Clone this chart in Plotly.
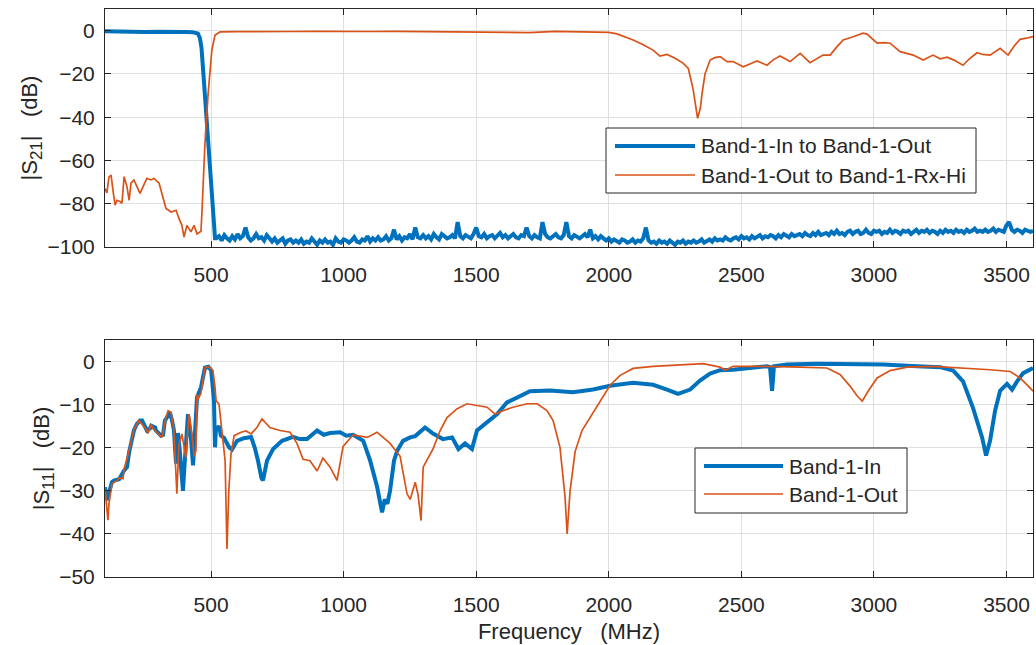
import numpy as np
import plotly.graph_objects as go

# ---------------------------------------------------------------- styling
BLUE = "#0072BD"
ORANGE = "#D95319"
INK = "#262626"
GRID = "#dfdfdf"
FONT = "Liberation Sans, Arial, Helvetica, sans-serif"
TICK_SIZE = 21
LABEL_SIZE = 22
LEGEND_SIZE = 21

W, H = 1036, 645
ML, MR, MT, MB = 105, 3, 9, 68

FREQ_RANGE = [100, 3600]
FREQ_TICKS = [500, 1000, 1500, 2000, 2500, 3000, 3500]
S21_TICKS = [0, -20, -40, -60, -80, -100]
S11_TICKS = [0, -10, -20, -30, -40, -50]

# ---------------------------------------------------------------- |S21| data
# Band-1-In to Band-1-Out: passband and roll-off (MHz, dB)
s21_in_f_edge = [100, 150, 200, 250, 300, 350, 400, 430, 440, 450, 458, 464,
                 470, 477, 485, 496, 503, 508, 515]
s21_in_db_edge = [-0.3, -0.5, -0.4, -0.6, -0.5, -0.4, -0.6, -0.7, -0.8, -1.3,
                  -3.4, -8.0, -18.0, -31.0, -44.5, -67.6, -80.0, -90.0, -96.0]

# Band-1-In to Band-1-Out: stopband sweep, 10 MHz steps from 520 MHz
s21_in_stop_start = 520
s21_in_stop_step = 10
s21_in_db_stop = [
    -96, -95, -97, -94.5, -96, -97, -95, -96.5, -94, -96,
    -95, -91, -95.5, -97, -96, -94, -96, -95.5, -97, -94.5,
    -96, -97.5, -96, -98, -97, -96, -98.5, -97, -96.5, -98,
    -97, -98, -96.5, -98.5, -97.5, -98, -96, -97.5, -99, -97,
    -98, -96.5, -98, -97.5, -99, -96, -97.5, -98, -96.5, -97,
    -98, -97, -95.5, -97.5, -98, -96.5, -97, -95, -97.5, -96,
    -97, -95.5, -97, -96.5, -95, -97, -96, -92, -96.5, -95,
    -97, -95.5, -96, -94, -96.5, -91, -95.5, -96, -94.5, -96,
    -95, -96.5, -94, -95.5, -96.5, -94, -95, -96, -95.5, -94.5,
    -96, -88.5, -95, -96, -94.5, -95.5, -96, -94, -91, -95,
    -95.5, -94, -96, -95, -94.5, -96, -95, -93.5, -95.5, -94.5,
    -96, -95, -94, -95.5, -96, -94.5, -95, -91, -95, -96,
    -94.5, -95.5, -96, -88.5, -94, -95.5, -96, -95, -94, -95.5,
    -96, -94.5, -88.5, -95, -96, -94.5, -95.5, -96, -95, -94,
    -95.5, -92, -96, -95, -96.5, -95, -96, -97, -96, -97.5,
    -96.5, -97.5, -98, -96.5, -97, -98, -97.5, -96.5, -98, -97,
    -97.5, -96, -91, -97, -98, -97.5, -98.5, -97, -98, -97.5,
    -98.5, -97, -98, -99, -97.5, -98, -97, -98.5, -97.5, -98,
    -97, -98, -97.5, -96.5, -98, -97, -96.5, -97.5, -96, -97,
    -96.5, -97, -95.5, -96.5, -97, -96, -95.5, -96.5, -95, -96,
    -95.5, -96.5, -95, -96, -95.5, -94.5, -96, -95, -95.5, -94.5,
    -95, -96, -94.5, -95.5, -94, -95, -95.5, -94, -95, -94.5,
    -94, -95, -93.5, -94.5, -95, -93.5, -94.5, -93, -94.5, -94,
    -93.5, -94.5, -93, -94, -92.5, -94, -93.5, -94.5, -93, -92.5,
    -94, -93, -92.5, -94, -93.5, -92, -93.5, -94, -92.5, -93,
    -92.5, -94, -93, -93.5, -92, -93.5, -92.5, -93, -94, -92.5,
    -93, -92.5, -94, -93, -92, -93.5, -92.5, -93, -92, -93.5,
    -92.5, -93, -94, -92.5, -93.5, -92, -93, -92.5, -93.5, -92,
    -93, -92.5, -93.5, -92, -93, -92.5, -91.5, -93, -92.5, -93,
    -92, -93, -92.5, -91.5, -93, -92, -92.5, -93, -90, -88.5,
    -92, -93, -92, -92.5, -93.5, -92, -92.5, -93, -92.5,
]

# Band-1-Out to Band-1-Rx-Hi (MHz, dB)
s21_out_f = [100, 107, 115, 123, 130, 138, 145, 157, 164, 172, 183, 191, 198,
             209, 221, 232, 243, 258, 274, 285, 304, 315, 330, 349, 368, 379,
             390, 398, 409, 424, 436, 447, 462, 466, 477, 489, 503, 515, 534,
             600, 700, 800, 900, 1000, 1100, 1200, 1300, 1400, 1500, 1600,
             1700, 1800, 1900, 1967, 2000, 2031, 2060, 2092, 2130, 2167, 2193,
             2220, 2250, 2280, 2300, 2318, 2335, 2345, 2352, 2363, 2382, 2400,
             2420, 2446, 2469, 2507, 2530, 2559, 2597, 2620, 2646, 2684, 2722,
             2759, 2808, 2835, 2860, 2884, 2922, 2959, 2974, 3012, 3040, 3061,
             3099, 3148, 3186, 3223, 3250, 3276, 3300, 3336, 3360, 3389, 3410,
             3438, 3476, 3506, 3530, 3551, 3575, 3600]
s21_out_db = [-73, -75, -67.7, -66.8, -73.8, -80.7, -78.4, -79, -79.8, -67.5,
              -72.2, -78.4, -70.5, -69, -72.2, -75.2, -72.2, -68.3, -69, -68.3,
              -70.5, -75.2, -82.2, -83.8, -83, -86.8, -90, -95.4, -90, -93,
              -90, -94, -92.7, -83, -52, -29, -9, -2, -0.6,
              -0.5, -0.3, -0.4, -0.3, -0.5, -0.4, -0.3, -0.4, -0.5, -0.6, -0.5,
              -0.9, -0.3, -0.4, -0.6, -0.8, -1.5, -2.8, -4.3, -6.5, -9, -11.8,
              -11, -12.8, -15, -17.5, -27, -40.5, -36, -29, -20, -13.6, -12.5,
              -12, -14.3, -14.3, -16.7, -15.5, -14, -16, -13.5, -11.7, -14.3,
              -10.5, -14.8, -11.3, -11.3, -7.5, -4.3, -2.8, -1.2, -1.6, -5.8,
              -5.5, -5.8, -9.7, -11.3, -13.6, -11.3, -13, -12.3, -13.5, -16,
              -13, -10.2, -11, -11.3, -8.2, -11.3, -7, -4, -3.5, -2.8]

# ---------------------------------------------------------------- |S11| data
s11_in_f = [100, 107, 115, 126, 134, 153, 172, 183, 191, 200, 209, 220, 232,
            240, 251, 258, 270, 274, 289, 292, 311, 319, 326, 345, 353, 360,
            368, 375, 381, 387, 394, 400, 405, 413, 424, 432, 440, 447, 462,
            470, 477, 490, 500, 505, 511, 515, 519, 522, 530, 537, 549, 568,
            579, 598, 624, 651, 665, 677, 690, 696, 705, 711, 734, 768, 809,
            835, 862, 880, 900, 925, 949, 987, 1010, 1036, 1074, 1100, 1126,
            1145, 1155, 1165, 1175, 1190, 1202, 1224, 1251, 1270, 1307, 1337,
            1375, 1409, 1433, 1458, 1484, 1503, 1541, 1579, 1616, 1665, 1703,
            1778, 1865, 1941, 2005, 2092, 2167, 2220, 2261, 2307, 2344, 2382,
            2420, 2469, 2533, 2597, 2608, 2616, 2623, 2672, 2786, 2910, 3035,
            3163, 3250, 3299, 3336, 3374, 3408, 3423, 3438, 3457, 3476, 3502,
            3521, 3540, 3563, 3600]
s11_in_db = [-29.2, -32.2, -30.5, -28, -27.6, -27.3, -25.3, -24.5, -21, -18,
             -16, -14.5, -13.7, -13.7, -14.9, -16, -15.5, -14.9, -15.3, -16,
             -17.2, -17, -13.7, -11.8, -13.7, -16, -23.7, -16.6, -20, -25, -30,
             -24, -19.3, -12.2, -17.7, -24.1, -16, -8.3, -6, -3, -1.4, -1.2,
             -2, -5, -9.1, -19.9, -15, -16, -14.9, -17.2, -17.7, -19.9, -20.4,
             -18.4, -17.8, -17.5, -20, -23, -27, -27.6, -25, -23, -20.3, -18.4,
             -17.5, -18, -18, -17, -16, -17, -16.6, -16.4, -17.2, -17, -18.4,
             -23, -29, -35, -32, -33, -30, -23, -20.7, -18.4, -17.6, -17.3,
             -15.3, -16.7, -18, -17.6, -20.3, -19, -20.3, -16, -14.1, -12.2,
             -9.5, -8, -6.9, -6.7, -7.1, -6.5, -5.6, -4.9, -5.4, -6.5, -7.5,
             -6.5, -4.4, -2.8, -2, -1.9, -1.5, -1.1, -1.3, -6.8, -1.1, -0.7,
             -0.5, -0.5, -0.7, -1.1, -1.3, -2.1, -4.6, -10.8, -17.6, -21.8,
             -18.4, -11.4, -6.8, -5.2, -6.5, -4.6, -2.7, -1.5]

s11_out_f = [100, 107, 111, 115, 126, 145, 153, 168, 172, 191, 209, 228, 232,
             258, 262, 274, 281, 304, 315, 330, 338, 349, 360, 371, 379, 390,
             398, 405, 417, 428, 436, 443, 447, 451, 462, 470, 477, 490, 507,
             515, 519, 530, 541, 553, 560, 567, 575, 587, 613, 632, 651, 673,
             692, 722, 760, 798, 824, 847, 873, 900, 922, 949, 975, 998, 1036,
             1089, 1126, 1175, 1213, 1239, 1251, 1270, 1281, 1292, 1300, 1318,
             1337, 1364, 1390, 1427, 1465, 1503, 1541, 1571, 1601, 1639, 1692,
             1730, 1767, 1790, 1816, 1835, 1843, 1854, 1873, 1899, 1929, 1967,
             2005, 2043, 2092, 2167, 2280, 2356, 2420, 2439, 2469, 2597, 2722,
             2823, 2872, 2910, 2937, 2956, 2978, 3012, 3061, 3125, 3223, 3351,
             3438, 3514, 3551, 3589, 3600]
s11_out_db = [-29.2, -33.8, -36.8, -33, -28.4, -27.6, -27, -27.2, -25, -20.6,
              -15.8, -13.7, -14, -16, -16.7, -14.6, -15.6, -16.8, -17.6, -13,
              -11.4, -11.8, -16, -30.7, -19.3, -16.8, -20, -22.3, -12.2, -16.8,
              -22, -20.6, -7.6, -8.8, -7.3, -4, -1.4, -1.2, -2, -6, -9.1, -9.9,
              -16, -23, -43.5, -30, -21.6, -17.2, -16.4, -16.1, -16.8, -15.3,
              -13.3, -15.3, -16, -16.4, -19, -22.7, -23, -25.4, -22.4, -24.5,
              -27.6, -19.7, -17, -17.6, -16.4, -19, -22, -30.7, -32, -28, -31,
              -36.9, -24.5, -22.6, -20.3, -16, -13, -11, -9.8, -10.2, -10.6,
              -12.2, -11.4, -10.6, -9.8, -9.8, -11.4, -13.7, -19.9, -31.4, -40,
              -30, -20.9, -16, -13, -9, -5.5, -3.2, -1.6, -1.1, -0.7, -0.5,
              -1.3, -2, -1.1, -1.1, -1.3, -1.5, -3, -5.7, -8, -9.2, -6.9, -3.8,
              -2.1, -1.3, -1.1, -1.5, -1.9, -2.3, -3.8, -6.1, -6.9]

# ---------------------------------------------------------------- traces
s21_in_f = s21_in_f_edge + [s21_in_stop_start + s21_in_stop_step * i
                            for i in range(len(s21_in_db_stop))]
s21_in_db = s21_in_db_edge + s21_in_db_stop

fig = go.Figure()
fig.add_trace(go.Scatter(x=s21_in_f, y=s21_in_db, mode="lines",
                         line=dict(color=BLUE, width=4),
                         name="Band-1-In to Band-1-Out",
                         xaxis="x", yaxis="y", showlegend=False))
fig.add_trace(go.Scatter(x=s21_out_f, y=s21_out_db, mode="lines",
                         line=dict(color=ORANGE, width=1.7),
                         name="Band-1-Out to Band-1-Rx-Hi",
                         xaxis="x", yaxis="y", showlegend=False))
fig.add_trace(go.Scatter(x=s11_in_f, y=s11_in_db, mode="lines",
                         line=dict(color=BLUE, width=4), name="Band-1-In",
                         xaxis="x2", yaxis="y2", showlegend=False))
fig.add_trace(go.Scatter(x=s11_out_f, y=s11_out_db, mode="lines",
                         line=dict(color=ORANGE, width=1.7), name="Band-1-Out",
                         xaxis="x2", yaxis="y2", showlegend=False))

# ---------------------------------------------------------------- axes
PW = W - ML - MR
PH = H - MT - MB


def px(x):
    return (x - ML) / PW


def py(y):
    return (H - MB - y) / PH


axis_common = dict(
    showgrid=True, gridcolor=GRID, gridwidth=1, zeroline=False,
    showline=True, linecolor=INK, linewidth=1, mirror="ticks",
    ticks="inside", ticklen=6, tickcolor=INK, tickwidth=1,
    tickfont=dict(family=FONT, size=TICK_SIZE, color=INK),
)

SUB = "<sub><span style='font-size:17px'>{}</span></sub>"

fig.update_layout(
    width=W, height=H,
    margin=dict(l=ML, r=MR, t=MT, b=MB, pad=0),
    paper_bgcolor="white", plot_bgcolor="white",
    font=dict(family=FONT, color=INK),
    xaxis=dict(axis_common, domain=[0, 1], anchor="y", range=FREQ_RANGE,
               tickvals=FREQ_TICKS, ticklabelstandoff=9),
    yaxis=dict(axis_common, domain=[py(247), 1], anchor="x",
               range=[-100, 10], tickvals=S21_TICKS, ticklabelstandoff=5,
               title=dict(text="|S" + SUB.format("21") + "|   (dB)",
                          standoff=3,
                          font=dict(family=FONT, size=LABEL_SIZE, color=INK))),
    xaxis2=dict(axis_common, domain=[0, 1], anchor="y2", range=FREQ_RANGE,
                tickvals=FREQ_TICKS, ticklabelstandoff=9,
                title=dict(text="Frequency   (MHz)", standoff=8,
                           font=dict(family=FONT, size=LABEL_SIZE, color=INK))),
    yaxis2=dict(axis_common, domain=[0, py(340)], anchor="x2",
                range=[-50, 5], tickvals=S11_TICKS, ticklabelstandoff=5,
                title=dict(text="|S" + SUB.format("11") + "|   (dB)",
                           standoff=3,
                           font=dict(family=FONT, size=LABEL_SIZE, color=INK))),
)

# ---------------------------------------------------------------- legends
def legend_box(x0, x1, y0, y1, rows, sample_x0, sample_x1, text_x):
    shapes = [dict(type="rect", xref="paper", yref="paper",
                   x0=px(x0), x1=px(x1), y0=py(y1), y1=py(y0),
                   line=dict(color=INK, width=1), fillcolor="white",
                   layer="above")]
    notes = []
    for y, color, width, label in rows:
        shapes.append(dict(type="line", xref="paper", yref="paper",
                           x0=px(sample_x0), x1=px(sample_x1),
                           y0=py(y), y1=py(y),
                           line=dict(color=color, width=width),
                           layer="above"))
        notes.append(dict(xref="paper", yref="paper", x=px(text_x), y=py(y),
                          xanchor="left", yanchor="middle", showarrow=False,
                          text=label,
                          font=dict(family=FONT, size=LEGEND_SIZE, color=INK)))
    return shapes, notes


sh1, an1 = legend_box(606, 976, 128, 193,
                      [(146, BLUE, 4, "Band-1-In to Band-1-Out"),
                       (175, ORANGE, 1.7, "Band-1-Out to Band-1-Rx-Hi")],
                      615, 695, 699)
sh2, an2 = legend_box(695, 907, 448, 513,
                      [(466, BLUE, 4, "Band-1-In"),
                       (494, ORANGE, 1.7, "Band-1-Out")],
                      704, 783, 787)
fig.update_layout(shapes=sh1 + sh2, annotations=an1 + an2)

fig.write_html("out.html")
